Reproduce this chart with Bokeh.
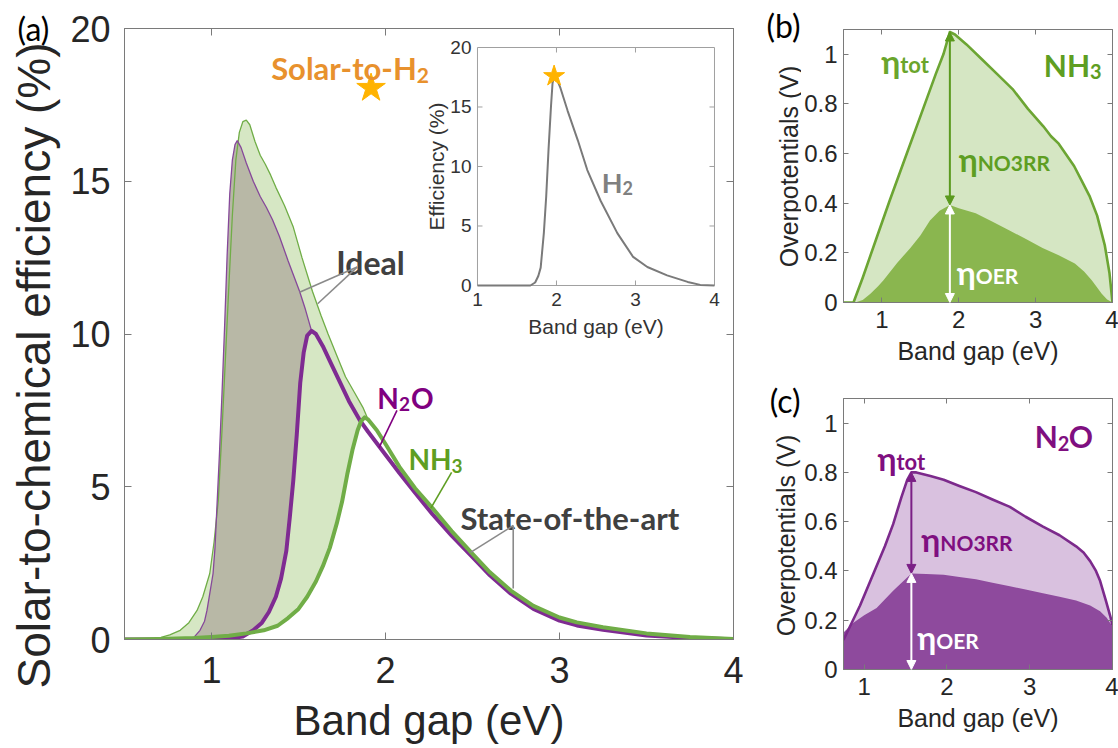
import numpy as np
from bokeh.plotting import figure
from bokeh.models import (Range1d, LinearAxis, FixedTicker, Arrow,
                          NormalHead, CustomJSTickFormatter)
from bokeh.layouts import row, column
from bokeh.embed import file_html
from bokeh.resources import INLINE
from bokeh.core.properties import value

# ---------------- data : panel (a) ----------------
ideal_nh3_x = [0.50, 0.60, 0.66, 0.71, 0.76, 0.82, 0.87, 0.917, 0.95, 0.99, 1.015, 1.039,
               1.06, 1.08, 1.10, 1.12, 1.14, 1.16, 1.18, 1.20, 1.22, 1.25, 1.28, 1.31,
               1.34, 1.37, 1.42, 1.47, 1.52, 1.58, 1.63, 1.67, 1.72, 1.77, 1.82, 1.87, 1.90]
ideal_nh3_y = [0.0, 0.0, 0.02, 0.07, 0.15, 0.30, 0.55, 0.95, 1.4, 2.16, 3.2, 4.55,
               6.8, 9.2, 11.6, 13.9, 15.7, 16.6, 16.95, 17.0, 16.85, 16.3, 15.85, 15.55,
               15.2, 14.8, 14.2, 13.5, 12.5, 11.4, 10.6, 10.0, 9.3, 8.6, 8.1, 7.6, 7.2]

ideal_n2o_x = [0.50, 0.85, 0.90, 0.934, 0.96, 0.974, 0.99, 1.009, 1.02, 1.03, 1.045, 1.06,
               1.075, 1.09, 1.105, 1.12, 1.135, 1.148, 1.17, 1.20, 1.24, 1.28, 1.315, 1.35,
               1.39, 1.44, 1.506, 1.54, 1.575]
ideal_n2o_y = [0.0, 0.0, 0.08, 0.3, 0.6, 0.95, 1.5, 2.16, 3.0, 4.2, 6.0, 8.0,
               10.2, 12.6, 14.6, 15.7, 16.2, 16.33, 16.1, 15.6, 15.0, 14.5, 14.15, 13.75,
               13.2, 12.4, 11.4, 10.8, 10.1]

sota_nh3_x = [0.50, 0.70, 0.90, 1.00, 1.10, 1.20, 1.30, 1.38, 1.44, 1.50, 1.55, 1.60, 1.64,
              1.68, 1.72, 1.75, 1.78, 1.81, 1.84, 1.86, 1.88, 1.90, 1.95, 2.00, 2.08, 2.17,
              2.27, 2.38, 2.50, 2.60, 2.72, 2.85, 3.00, 3.10, 3.25, 3.50, 3.75, 4.00]
sota_nh3_y = [0.0, 0.02, 0.05, 0.08, 0.12, 0.20, 0.30, 0.45, 0.70, 1.0, 1.4, 1.9, 2.4,
              3.0, 3.8, 4.5, 5.4, 6.2, 6.85, 7.15, 7.27, 7.2, 6.85, 6.4, 5.65, 4.95,
              4.3, 3.55, 2.8, 2.2, 1.6, 1.1, 0.72, 0.56, 0.40, 0.20, 0.08, 0.02]

sota_n2o_x = [0.50, 1.00, 1.10, 1.18, 1.24, 1.29, 1.33, 1.37, 1.40, 1.43, 1.45, 1.47, 1.49,
              1.51, 1.53, 1.55, 1.575, 1.60, 1.64, 1.69, 1.74, 1.79, 1.85, 1.90, 2.00, 2.08,
              2.17, 2.27, 2.38, 2.50, 2.60, 2.72, 2.85, 3.00, 3.10, 3.25, 3.50, 3.75, 4.00]
sota_n2o_y = [0.0, 0.0, 0.03, 0.10, 0.30, 0.55, 0.90, 1.4, 2.0, 2.9, 4.0, 5.2, 6.7,
              8.4, 9.4, 9.95, 10.1, 10.0, 9.6, 9.0, 8.4, 7.8, 7.2, 6.8, 6.05, 5.45,
              4.8, 4.1, 3.4, 2.7, 2.1, 1.5, 1.0, 0.62, 0.46, 0.32, 0.13, 0.05, 0.01]

# inset : solar-to-H2
h2_x = [1.0, 1.5, 1.67, 1.73, 1.77, 1.80, 1.84, 1.87, 1.90, 1.93, 1.95, 1.97, 2.00, 2.05,
        2.14, 2.27, 2.39, 2.56, 2.77, 2.97, 3.15, 3.40, 3.66, 3.82, 4.0]
h2_y = [0.0, 0.0, 0.0, 0.25, 0.8, 1.5, 4.4, 7.5, 11.5, 15.0, 17.0, 17.6, 17.4, 16.6,
        14.7, 12.2, 9.7, 7.1, 4.4, 2.4, 1.55, 0.85, 0.3, 0.05, 0.0]

star_main_x = [1.917]
star_main_y = [18.05]

main_xr = [0.5, 4.0]
main_yr = [0.0, 20.0]
main_xticks = [1, 2, 3, 4]
main_yticks = [0, 5, 10, 15, 20]
inset_xticks = [1, 2, 3, 4]
inset_yticks = [0, 5, 10, 15, 20]

# ---------------- data : panel (b) NH3 ----------------
b_tot_x = [0.50, 0.63, 0.75, 0.93, 1.10, 1.30, 1.50, 1.70, 1.80, 1.884, 1.95, 2.10, 2.30,
           2.50, 2.70, 2.90, 3.10, 3.20, 3.30, 3.50, 3.60, 3.70, 3.80, 3.90, 3.96, 4.00]
b_tot_y = [0.0, 0.0, 0.10, 0.26, 0.41, 0.58, 0.75, 0.92, 1.00, 1.09, 1.08, 1.04, 0.98,
           0.92, 0.86, 0.78, 0.71, 0.67, 0.64, 0.55, 0.49, 0.43, 0.35, 0.23, 0.12, 0.0]
b_oer_x = [0.50, 0.65, 0.75, 0.85, 0.95, 1.02, 1.20, 1.37, 1.50, 1.625, 1.75, 1.884, 2.00,
           2.22, 2.44, 2.66, 2.88, 3.09, 3.30, 3.51, 3.63, 3.73, 3.80, 3.86, 3.93, 4.00]
b_oer_y = [0.0, 0.0, 0.01, 0.035, 0.065, 0.09, 0.16, 0.22, 0.27, 0.33, 0.37, 0.393, 0.38,
           0.36, 0.325, 0.29, 0.255, 0.22, 0.19, 0.157, 0.125, 0.09, 0.06, 0.035, 0.012, 0.0]

# ---------------- data : panel (c) N2O ----------------
c_tot_x = [0.75, 0.85, 0.95, 1.05, 1.15, 1.25, 1.35, 1.45, 1.52, 1.57, 1.63, 1.80, 1.96,
           2.15, 2.35, 2.55, 2.76, 2.95, 3.16, 3.36, 3.56, 3.65, 3.73, 3.80, 3.85, 3.92,
           3.97, 4.00]
c_tot_y = [0.12, 0.19, 0.26, 0.34, 0.42, 0.50, 0.59, 0.70, 0.77, 0.80, 0.80, 0.785, 0.77,
           0.745, 0.72, 0.69, 0.66, 0.62, 0.58, 0.545, 0.50, 0.475, 0.44, 0.40, 0.36, 0.28,
           0.22, 0.18]
c_oer_x = [0.75, 0.87, 1.00, 1.15, 1.35, 1.57, 1.75, 1.96, 2.15, 2.35, 2.55, 2.76, 2.95,
           3.16, 3.36, 3.56, 3.73, 3.85, 3.93, 4.00]
c_oer_y = [0.15, 0.19, 0.22, 0.25, 0.32, 0.39, 0.388, 0.385, 0.375, 0.366, 0.352, 0.338,
           0.325, 0.31, 0.295, 0.28, 0.26, 0.236, 0.21, 0.175]

b_xr = [0.5, 4.0]
c_xr = [0.75, 4.0]
ov_yr = [0.0, 1.1]
ov_xticks = [1, 2, 3, 4]
ov_yticks = [0, 0.2, 0.4, 0.6, 0.8, 1.0]

# ---------------- styles ----------------
AX_COL = "#7a7a7a"
TXT_COL = "#262626"
TICK_FONT = "Liberation Sans"
ANN_FONT = "Lato"
GREEN = "#70ad47"
GREEN_FILL = "#d6e7c4"
GRAY_FILL = "#b8b8a6"
PURPLE = "#7f2b92"
PURPLE_THIN = "#86489a"

TOTAL_W, TOTAL_H = 1118, 748


def make_fig(w, h, xr, yr, bl, br, bt, bb):
    p = figure(width=w, height=h, x_range=Range1d(*xr), y_range=Range1d(*yr),
               output_backend="svg", toolbar_location=None,
               min_border_left=bl, min_border_right=br,
               min_border_top=bt, min_border_bottom=bb)
    p.title.visible = False
    p.xgrid.visible = False
    p.ygrid.visible = False
    p.outline_line_color = AX_COL
    p.outline_line_width = 1
    p.background_fill_color = "white"
    p.border_fill_color = "white"
    return p


def style_axes(p, xt, yt, tick_fs, xlab_fs, tick_in, xlab, xstand, xlstand, ystand, yfmt=None):
    xa = p.below[0]
    ya = p.left[0]
    for ax, ticks in ((xa, xt), (ya, yt)):
        ax.ticker = FixedTicker(ticks=ticks)
        ax.major_tick_in = tick_in
        ax.major_tick_out = 0
        ax.minor_tick_line_color = None
        ax.axis_line_color = AX_COL
        ax.major_tick_line_color = AX_COL
        ax.major_label_text_font = TICK_FONT
        ax.major_label_text_font_size = f"{tick_fs}px"
        ax.major_label_text_color = TXT_COL
        ax.axis_label_text_font = TICK_FONT
        ax.axis_label_text_font_style = "normal"
        ax.axis_label_text_color = TXT_COL
    xa.axis_label_text_font_size = f"{xlab_fs}px"
    xa.axis_label = xlab
    xa.major_label_standoff = xstand
    xa.axis_label_standoff = xlstand
    ya.major_label_standoff = ystand
    if yfmt is not None:
        ya.formatter = yfmt
    for side, ticks in (("above", xt), ("right", yt)):
        ax = LinearAxis(ticker=FixedTicker(ticks=ticks), major_tick_in=tick_in,
                        major_tick_out=0, minor_tick_line_color=None,
                        axis_line_color=AX_COL, major_tick_line_color=AX_COL,
                        major_label_text_font_size="0px", major_label_standoff=0,
                        major_label_text_color=None)
        p.add_layout(ax, side)


def sublabel(p, x, y, main, sub, color, fs, sfs, sdy, post=None, post_dx=0, **rng):
    common = dict(text_font=value(ANN_FONT), text_font_style="bold",
                  text_baseline="alphabetic", text_color=color, **rng)
    p.text(x=[x], y=[y], text=[main], text_align="right",
           text_font_size=f"{fs}px", **common)
    p.text(x=[x], y=[y], text=[sub], text_align="left", y_offset=sdy,
           text_font_size=f"{sfs}px", **common)
    if post:
        p.text(x=[x], y=[y], text=[post], text_align="left", x_offset=post_dx,
               text_font_size=f"{fs}px", **common)


def strip(x0, x1):
    # a narrow, axis-less figure whose frame is the whole canvas (1 unit = 1 px)
    s = figure(width=x1 - x0, height=TOTAL_H, x_range=Range1d(x0, x1),
               y_range=Range1d(0, TOTAL_H), x_axis_type=None, y_axis_type=None,
               output_backend="svg", toolbar_location=None,
               min_border_left=0, min_border_right=0, min_border_top=0, min_border_bottom=0)
    s.title.visible = False
    s.xgrid.visible = False
    s.ygrid.visible = False
    s.outline_line_color = None
    s.background_fill_color = "white"
    s.border_fill_color = "white"
    return s


# ================= panel (a) =================
W_A, H_A = 683, TOTAL_H
BL_A, BR_A, BT_A, BB_A = 62, 12, 28, 109
pa = make_fig(W_A, H_A, main_xr, main_yr, BL_A, BR_A, BT_A, BB_A)
style_axes(pa, main_xticks, main_yticks, 36, 42, 7, "Band gap (eV)", 17, 11, 14)

# NH3 band (ideal -> state of the art)
nh3_end = ideal_nh3_x[-1]
sx = np.array(sota_nh3_x); sy = np.array(sota_nh3_y)
m = sx <= nh3_end
pa.patch(x=list(ideal_nh3_x) + list(sx[m][::-1]), y=list(ideal_nh3_y) + list(sy[m][::-1]),
         fill_color=GREEN_FILL, line_color=None)
# N2O band
n2o_end = ideal_n2o_x[-1]
nx = np.array(sota_n2o_x); ny = np.array(sota_n2o_y)
m2 = nx <= n2o_end
pa.patch(x=list(ideal_n2o_x) + list(nx[m2][::-1]), y=list(ideal_n2o_y) + list(ny[m2][::-1]),
         fill_color=GRAY_FILL, line_color=None)

pa.line([main_xr[0], main_xr[1]], [0, 0], line_color=GREEN, line_width=1)
pa.line(ideal_nh3_x, ideal_nh3_y, line_color=GREEN, line_width=1.3)
pa.line(ideal_n2o_x, ideal_n2o_y, line_color=PURPLE_THIN, line_width=1.3)
pa.line(sota_n2o_x, sota_n2o_y, line_color=PURPLE, line_width=4, line_join="round")
pa.line(sota_nh3_x, sota_nh3_y, line_color=GREEN, line_width=4, line_join="round")

pa.scatter(star_main_x, star_main_y, marker="star", size=30,
           fill_color="#ffb300", line_color="#ffb300")

# annotations (a)
sublabel(pa, 2.18, 18.72, "Solar-to-H", "2", "#e8912d", 31, 21, 8)
pa.text(x=[1.717], y=[12.34], text=["Ideal"], text_font=value(ANN_FONT),
        text_font_style="bold", text_font_size="32px", text_color="#404040",
        text_baseline="alphabetic", text_align="left")
pa.segment(x0=[1.837, 1.837], y0=[12.19, 12.19], x1=[1.506, 1.61], y1=[11.37, 10.99],
           line_color="#8a8a8a", line_width=1.6)
sublabel(pa, 2.077, 7.92, "N", "2", "#800080", 28, 19, 6, post="O", post_dx=12)
pa.segment(x0=[2.066], y0=[7.50], x1=[1.963], y1=[6.28], line_color="#800080", line_width=1.6)
sublabel(pa, 2.38, 5.92, "NH", "3", "#5e9e22", 28, 19, 7)
pa.segment(x0=[2.38], y0=[5.47], x1=[2.26], y1=[4.29], line_color="#5e9e22", line_width=1.6)
pa.text(x=[2.431], y=[3.99], text=["State-of-the-art"], text_font=value(ANN_FONT),
        text_font_style="bold", text_font_size="31px", text_color="#404040",
        text_baseline="alphabetic", text_align="left")
pa.segment(x0=[2.734, 2.734], y0=[3.73, 3.73], x1=[2.489, 2.734], y1=[2.85, 1.67],
           line_color="#8a8a8a", line_width=1.6)

# ---- inset (drawn through extra ranges of panel a) ----
frame_w = W_A - BL_A - BR_A
frame_h = H_A - BT_A - BB_A
INSET_FX = (0.5796, 0.9688)
INSET_FY = (0.5794, 0.9689)


def outer_range(lo, hi, f0, f1):
    span = (hi - lo) / (f1 - f0)
    return Range1d(lo - f0 * span, lo + (1 - f0) * span)


ix0, ix1 = inset_xticks[0], inset_xticks[-1]
iy0, iy1 = inset_yticks[0], inset_yticks[-1]
pa.extra_x_ranges = {"ix": outer_range(ix0, ix1, *INSET_FX)}
pa.extra_y_ranges = {"iy": outer_range(iy0, iy1, *INSET_FY)}
IR = dict(x_range_name="ix", y_range_name="iy")
px_x = (INSET_FX[1] - INSET_FX[0]) * frame_w / (ix1 - ix0)
px_y = (INSET_FY[1] - INSET_FY[0]) * frame_h / (iy1 - iy0)
tl = 5.0
pa.quad(left=[ix0], right=[ix1], bottom=[iy0], top=[iy1], fill_color="white",
        line_color="#a0a0a0", line_width=1, **IR)
inner_x = inset_xticks[1:-1]
inner_y = inset_yticks[1:-1]
pa.segment(x0=inner_x, y0=[iy0] * len(inner_x), x1=inner_x, y1=[iy0 + tl / px_y] * len(inner_x),
           line_color="#a0a0a0", **IR)
pa.segment(x0=inner_x, y0=[iy1] * len(inner_x), x1=inner_x, y1=[iy1 - tl / px_y] * len(inner_x),
           line_color="#a0a0a0", **IR)
pa.segment(x0=[ix0] * len(inner_y), y0=inner_y, x1=[ix0 + tl / px_x] * len(inner_y), y1=inner_y,
           line_color="#a0a0a0", **IR)
pa.segment(x0=[ix1] * len(inner_y), y0=inner_y, x1=[ix1 - tl / px_x] * len(inner_y), y1=inner_y,
           line_color="#a0a0a0", **IR)
pa.line(h2_x, h2_y, line_color="#7a7a7a", line_width=2, **IR)
ipk = int(np.argmax(h2_y))
pa.scatter([h2_x[ipk]], [h2_y[ipk]], marker="star", size=22,
           fill_color="#ffb300", line_color="#ffb300", **IR)
itxt = dict(text_font=value(TICK_FONT), text_font_size="19px", text_color="#333333", **IR)
pa.text(x=inset_xticks, y=[iy0] * len(inset_xticks), text=[str(t) for t in inset_xticks],
        text_align="center", text_baseline="top", y_offset=8, **itxt)
pa.text(x=[ix0] * len(inset_yticks), y=inset_yticks, text=[str(t) for t in inset_yticks],
        text_align="right", text_baseline="middle", x_offset=-6, **itxt)
itxt2 = dict(itxt); itxt2["text_font_size"] = "21px"
pa.text(x=[(ix0 + ix1) / 2], y=[iy0], text=["Band gap (eV)"], text_align="center",
        text_baseline="top", y_offset=30, **itxt2)
pa.text(x=[ix0], y=[(iy0 + iy1) / 2], text=["Efficiency (%)"], text_align="center",
        text_baseline="middle", x_offset=-41, angle=np.pi / 2, **itxt2)
sublabel(pa, 2.835, 8.66, "H", "2", "#808080", 27, 18, 6, **IR)

# ---- left strip : panel tag and y-axis title of (a) ----
sa = strip(0, BL_A)
sa.text(x=[17], y=[TOTAL_H - 28], text=["(a)"], text_font=value(ANN_FONT),
        text_font_size="32px", text_color="black", text_align="left", text_baseline="middle")
sa.text(x=[33], y=[TOTAL_H - 365], text=["Solar-to-chemical efficiency (%)"], angle=np.pi / 2,
        text_font=value(TICK_FONT), text_font_size="46px", text_color=TXT_COL,
        text_align="center", text_baseline="middle")

# ================= panel (b) =================
X_STRIP_BC = (BL_A + W_A, 801)
fmt = CustomJSTickFormatter(code="return (Math.round(tick*10)/10).toString();")
W_R = TOTAL_W - X_STRIP_BC[1]
pb = make_fig(W_R, 374, b_xr, ov_yr, 39, 6, 29, 72)
style_axes(pb, ov_xticks, ov_yticks, 24, 25, 5, "Band gap (eV)", 8, 6, 6, yfmt=fmt)
pb.varea(x=b_tot_x, y1=0, y2=b_tot_y, fill_color="#d5e6c3")
pb.varea(x=b_oer_x, y1=0, y2=b_oer_y, fill_color="#8ab64f")
pb.line(b_tot_x, b_tot_y, line_color="#6ca533", line_width=2.6, line_join="round")
ib = int(np.argmax(b_tot_y))
xb, topb = b_tot_x[ib], b_tot_y[ib]
midb = float(np.interp(xb, b_oer_x, b_oer_y))
for (y0, y1, c) in ((midb, topb, "#5b9a1e"), (0.0, midb, "white")):
    pb.add_layout(Arrow(x_start=xb, y_start=y0, x_end=xb, y_end=y1, line_color=c, line_width=2,
                        start=NormalHead(size=9, fill_color=c, line_color=c),
                        end=NormalHead(size=9, fill_color=c, line_color=c)))
sublabel(pb, 1.237, 0.972, "η", "tot", "#6aa52c", 32, 22, 3)
sublabel(pb, 3.708, 0.955, "NH", "3", "#5e9e22", 30, 20, 6)
sublabel(pb, 2.246, 0.575, "η", "NO3RR", "#5e9e22", 32, 21, 3)
sublabel(pb, 2.22, 0.121, "η", "OER", "white", 32, 21, 3)

# ================= panel (c) =================
pc = make_fig(W_R, 374, c_xr, ov_yr, 39, 6, 24, 79)
style_axes(pc, ov_xticks, ov_yticks, 24, 25, 5, "Band gap (eV)", 8, 6, 6, yfmt=fmt)
pc.varea(x=c_tot_x, y1=0, y2=c_tot_y, fill_color="#d9c1df")
pc.varea(x=c_oer_x, y1=0, y2=c_oer_y, fill_color="#8e4a9d")
pc.line(c_tot_x, c_tot_y, line_color="#7c2a8c", line_width=2.6, line_join="round")
ic = int(np.argmax(c_tot_y))
xc, topc = c_tot_x[ic], c_tot_y[ic]
midc = float(np.interp(xc, c_oer_x, c_oer_y))
for (y0, y1, c) in ((midc, topc, "#7b1f86"), (0.0, midc, "white")):
    pc.add_layout(Arrow(x_start=xc, y_start=y0, x_end=xc, y_end=y1, line_color=c, line_width=2,
                        start=NormalHead(size=9, fill_color=c, line_color=c),
                        end=NormalHead(size=9, fill_color=c, line_color=c)))
sublabel(pc, 3.34, 0.947, "N", "2", "#7f0f80", 30, 20, 7, post="O", post_dx=11)
sublabel(pc, 1.389, 0.857, "η", "tot", "#7f0f80", 32, 22, 3)
sublabel(pc, 1.919, 0.528, "η", "NO3RR", "#7f0f80", 32, 21, 3)
sublabel(pc, 1.87, 0.13, "η", "OER", "white", 32, 21, 3)

# ---- middle strip : tags and y-axis titles of (b) and (c) ----
sbc = strip(*X_STRIP_BC)
ttl = dict(text_font=value(TICK_FONT), text_font_size="25px", text_color=TXT_COL,
           text_align="center", text_baseline="middle", angle=np.pi / 2)
tag = dict(text_font=value(ANN_FONT), text_font_size="32px", text_color="black",
           text_align="right", text_baseline="middle")
sbc.text(x=[800], y=[TOTAL_H - 25], text=["(b)"], **tag)
sbc.text(x=[800], y=[TOTAL_H - 400], text=["(c)"], **tag)
sbc.text(x=[788], y=[TOTAL_H - 166], text=["Overpotentials (V)"], **ttl)
sbc.text(x=[785], y=[TOTAL_H - 535], text=["Overpotentials (V)"], **ttl)

# each child wrapped in its own column so that Bokeh does not align the strips' frames
layout = row(column(sa), column(pa), column(sbc), column(pb, pc))
open("out.html", "w").write(file_html(layout, INLINE))
